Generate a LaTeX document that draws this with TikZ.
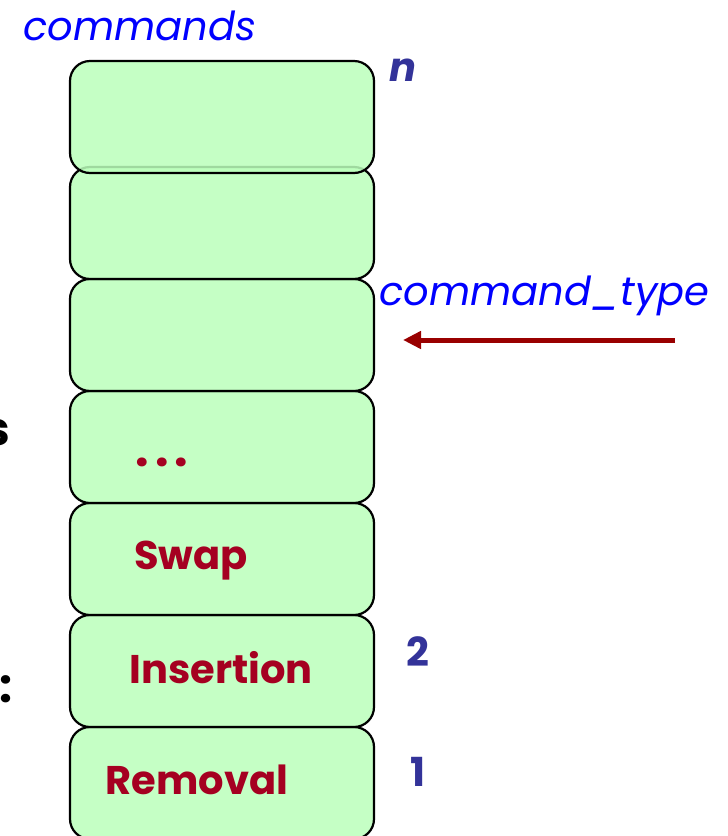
\documentclass[tikz,border=0pt]{standalone}
\usepackage{fontspec}
\setmainfont{Poppins}
\usetikzlibrary{arrows.meta}
\definecolor{boxgreen}{RGB}{187,255,187}
\definecolor{cmdred}{RGB}{165,0,33}
\definecolor{idxblue}{RGB}{51,51,153}
\definecolor{lblblue}{RGB}{0,0,255}
\definecolor{arrred}{RGB}{153,0,0}
\tikzset{
  cell/.style={draw=black, line width=2.2pt, fill=boxgreen, fill opacity=0.85,
    text opacity=1, rounded corners=20pt, minimum width=304pt,
    minimum height=112pt, inner sep=0pt},
  cmd/.style={text=cmdred, font=\fontsize{40}{42}\selectfont\bfseries},
  idx/.style={text=idxblue, font=\fontsize{40}{42}\selectfont\bfseries},
  lbl/.style={text=lblblue, font=\fontsize{40}{42}\selectfont\itshape},
  side/.style={text=black, font=\fontsize{46}{48}\selectfont\bfseries}
}
\begin{document}
\begin{tikzpicture}[x=1pt,y=-1pt]
\useasboundingbox (0,0) rectangle (728,836);
% stack of command cells, bottom first so upper cells overlap lower ones
\node[cell] (c1) at (222,783) {};
\node[cell] (c2) at (222,671) {};
\node[cell] (c3) at (222,559) {};
\node[cell] (c4) at (222,447) {};
\node[cell] (c5) at (222,335) {};
\node[cell] (c6) at (222,223) {};
\node[cell] (c7) at (222,117) {};
% cell contents
\node[cmd] (removal) at (197,780) {Removal};
\node[cmd] (insertion) at (221,668) {Insertion};
\node[cmd] (swap) at (191,561) {Swap};
\node[cmd, anchor=base, font=\fontsize{48}{50}\selectfont\bfseries] (dots) at (162,466)
  {.\hspace{6pt}.\hspace{6pt}.};
% indices
\node[idx] (i1) at (418,772) {1};
\node[idx] (i2) at (418,652) {2};
\node[idx, font=\fontsize{40}{42}\selectfont\bfseries\itshape] (in) at (403,70) {n};
% labels
\node[lbl, anchor=base west] (title) at (20,40) {commands};
\node[lbl, anchor=base west] (ctype) at (376,305) {command\_type};
\coordinate (astart) at (675,340);
\coordinate (aend) at (403,340);
\draw[arrred, line width=5pt, -{Triangle[length=18pt,width=17pt]}] (astart) -- (aend);
% text clipped at the left margin
\node[side, anchor=base east] (s) at (14,445) {s};
\node[side, anchor=base east] (colon) at (16,702) {:};
\end{tikzpicture}
\end{document}
